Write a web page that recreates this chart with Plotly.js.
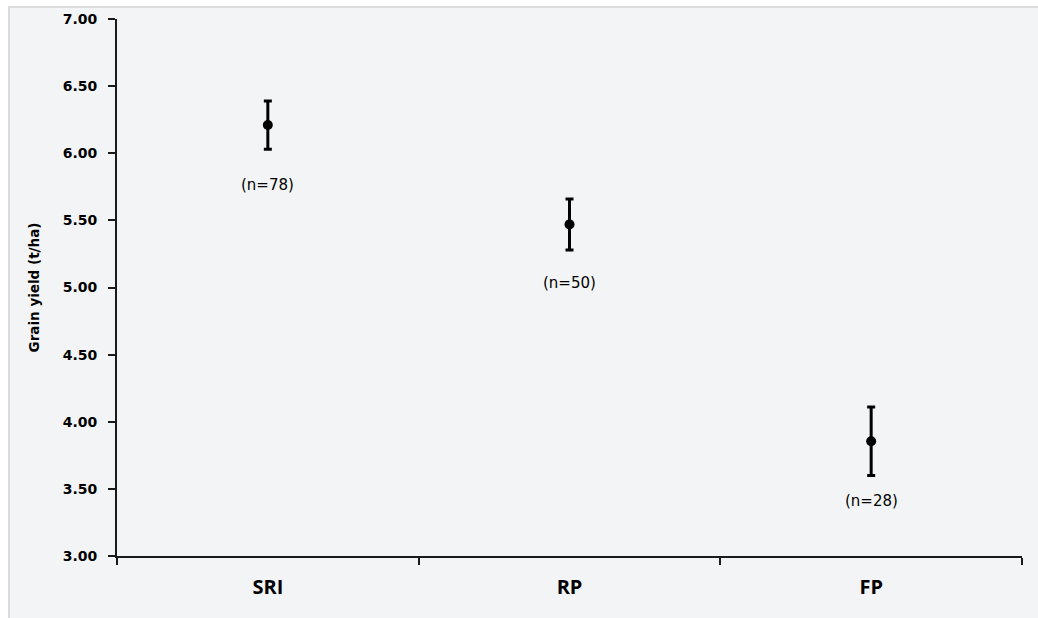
<!DOCTYPE html>
<html>
<head>
<meta charset="utf-8">
<script src="https://cdn.plot.ly/plotly-3.0.1.min.js"></script>
<style>
  html, body { margin: 0; padding: 0; background: #ffffff; width: 1038px; height: 618px; overflow: hidden; }
  #frame { position: absolute; left: 8px; top: 6px; width: 1028px; height: 610px;
           border-left: 2px solid #dcdcdc; border-top: 2px solid #dcdcdc; background: #f3f4f6; }
  #chart { position: absolute; left: 10px; top: 8px; width: 1028px; height: 610px; }
</style>
</head>
<body>
<div id="frame"></div>
<div id="chart"></div>
<script>
// Data
const categories = ["SRI", "RP", "FP"];
const meanYield = [6.21, 5.47, 3.855];
const errorYield = [0.18, 0.19, 0.255];
const sampleLabels = ["(n=78)", "(n=50)", "(n=28)"];
const labelY = [5.76, 5.03, 3.41];
const yTickVals = [3.0, 3.5, 4.0, 4.5, 5.0, 5.5, 6.0, 6.5, 7.0];

const trace = {
  type: "scatter",
  mode: "markers",
  x: categories,
  y: meanYield,
  marker: { color: "#000000", size: 10 },
  error_y: { type: "data", array: errorYield, visible: true, color: "#000000", thickness: 3, width: 4 },
  hoverinfo: "x+y",
  showlegend: false
};

const annotations = categories.map((c, i) => ({
  x: c, y: labelY[i], xref: "x", yref: "y",
  text: sampleLabels[i], showarrow: false,
  font: { family: "DejaVu Sans", size: 15, color: "#000000" }
}));

const layout = {
  width: 1028,
  height: 610,
  margin: { l: 107, r: 16, t: 11, b: 62 },
  paper_bgcolor: "#f3f4f6",
  plot_bgcolor: "#f3f4f6",
  font: { family: "DejaVu Sans", color: "#000000" },
  xaxis: {
    type: "category",
    range: [-0.5, 2.5],
    showline: true, linecolor: "#1a1a1a", linewidth: 2,
    ticks: "outside", ticklen: 7, tickwidth: 2, tickcolor: "#1a1a1a",
    tickson: "boundaries",
    showgrid: false, zeroline: false,
    tickfont: { family: "Open Sans", size: 20, weight: "bold", color: "#000000" },
    ticklabelstandoff: 12,
    fixedrange: true
  },
  yaxis: {
    range: [3, 7],
    tickvals: yTickVals,
    tickformat: ".2f",
    showline: true, linecolor: "#1a1a1a", linewidth: 2,
    ticks: "outside", ticklen: 7, tickwidth: 2, tickcolor: "#1a1a1a",
    showgrid: false, zeroline: false,
    tickfont: { family: "DejaVu Sans", size: 14, weight: "bold", color: "#000000" },
    ticklabelstandoff: 8,
    title: { text: "Grain yield (t/ha)", font: { family: "DejaVu Sans", size: 13.5, weight: "bold", color: "#000000" }, standoff: 20 },
    fixedrange: true
  },
  annotations: annotations
};

Plotly.newPlot("chart", [trace], layout, { displayModeBar: false, staticPlot: true });
</script>
</body>
</html>
